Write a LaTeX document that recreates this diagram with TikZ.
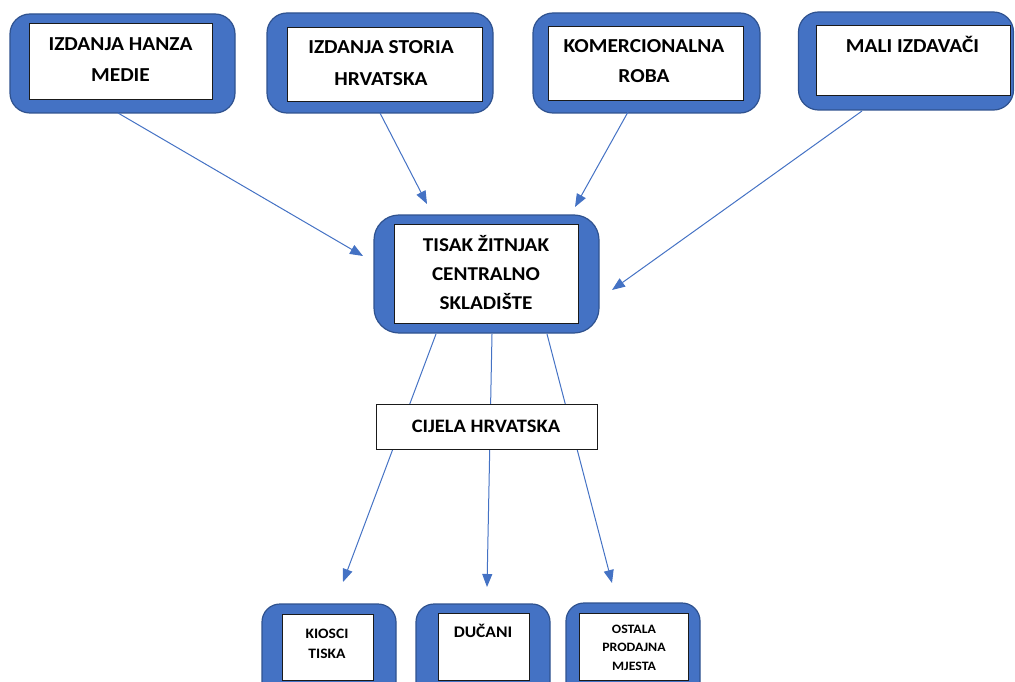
\documentclass[tikz,border=0pt]{standalone}
\usepackage{fontspec}
\setmainfont{Carlito}
\newfontfamily\widecal{Carlito}[FakeStretch=1.08]
\usetikzlibrary{arrows.meta}
\definecolor{fillblue}{HTML}{4472C4}
\definecolor{edgeblue}{HTML}{2F528F}
\definecolor{lineblue}{HTML}{4472C4}
\definecolor{innerline}{HTML}{1A1A1A}
\begin{document}
\begin{tikzpicture}[x=1pt,y=-1pt,
  outerbox/.style={draw=edgeblue, line width=1.2pt, fill=fillblue, rounded corners=#1, inner sep=0pt},
  innerbox/.style={draw=innerline, line width=0.9pt, fill=white, inner sep=0pt},
  plainbox/.style={draw=innerline, line width=0.9pt, fill=white, inner sep=0pt},
  toplabel/.style={inner sep=0pt, align=center, anchor=base, font=\widecal\bfseries\fontsize{19.8}{31}\selectfont},
  midlabel/.style={inner sep=0pt, align=center, anchor=base, font=\widecal\bfseries\fontsize{19.6}{29}\selectfont},
  smalllabel/.style={inner sep=0pt, align=center, anchor=base, font=\widecal\bfseries\fontsize{14.4}{20}\selectfont},
  tinylabel/.style={inner sep=0pt, align=center, anchor=base, font=\widecal\bfseries\fontsize{12.8}{18.5}\selectfont},
  flow/.style={draw=lineblue, line width=1pt, -{Triangle[length=13pt,width=10pt]}}
]
\useasboundingbox (0,0) rectangle (1015,682);
\clip (0,0) rectangle (1015,682);

% top boxes
\node[outerbox=20pt, minimum width=225pt, minimum height=99pt] (o1) at (122.5,63.5) {};
\node[innerbox, minimum width=183pt, minimum height=76pt] (b1) at (120.5,61) {};
\node[toplabel] (t1) at (120.5,82) {IZDANJA HANZA\\MEDIE};

\node[outerbox=20pt, minimum width=226pt, minimum height=100pt] (o2) at (380,63) {};
\node[innerbox, minimum width=195pt, minimum height=74pt] (b2) at (384.5,64) {};
\node[toplabel, font=\widecal\bfseries\fontsize{19.8}{32}\selectfont] (t2) at (381,86) {IZDANJA STORIA\\HRVATSKA};

\node[outerbox=20pt, minimum width=227pt, minimum height=100pt] (o3) at (646.5,63) {};
\node[innerbox, minimum width=195pt, minimum height=74pt] (b3) at (645.5,63) {};
\node[toplabel, font=\widecal\bfseries\fontsize{19.8}{30}\selectfont] (t3) at (644,83) {KOMERCIONALNA\\ROBA};

\node[outerbox=20pt, minimum width=215pt, minimum height=98pt] (o4) at (906,61) {};
\node[innerbox, minimum width=194pt, minimum height=70pt] (b4) at (913,60) {};
\node[toplabel] (t4) at (912.5,53) {MALI IZDAVAČI};

% central box
\node[outerbox=25pt, minimum width=225pt, minimum height=118pt] (oc) at (486.5,274) {};
\node[innerbox, minimum width=184pt, minimum height=99pt] (bc) at (486,273.5) {};
\node[midlabel] (tc) at (486,309) {TISAK ŽITNJAK\\CENTRALNO\\SKLADIŠTE};

% bottom boxes
\node[outerbox=18pt, minimum width=134pt, minimum height=110pt] (ok) at (329,659) {};
\node[innerbox, minimum width=91pt, minimum height=66pt] (bk) at (327.5,647) {};
\node[smalllabel] (tk) at (327,658) {KIOSCI\\TISKA};

\node[outerbox=18pt, minimum width=134pt, minimum height=110pt] (od) at (483,659) {};
\node[innerbox, minimum width=91pt, minimum height=67pt] (bd) at (483.5,646.5) {};
\node[smalllabel, font=\widecal\bfseries\fontsize{16.2}{20}\selectfont] (td) at (483,637) {DUČANI};

\node[outerbox=18pt, minimum width=134pt, minimum height=110pt] (oo) at (633,658) {};
\node[innerbox, minimum width=109pt, minimum height=67pt] (bo) at (633.5,646.5) {};
\node[tinylabel] (to) at (634,670) {OSTALA\\PRODAJNA\\MJESTA};

% arrow coordinates
\coordinate (s1) at (118,113);
\coordinate (e1) at (363,256);
\coordinate (s2) at (380,113);
\coordinate (e2) at (427,204);
\coordinate (s3) at (628,112);
\coordinate (e3) at (575,207);
\coordinate (s4) at (862,111);
\coordinate (e4) at (612,290);

\draw[flow] (s1) -- (e1);
\draw[flow] (s2) -- (e2);
\draw[flow] (s3) -- (e3);
\draw[flow] (s4) -- (e4);

% lines from central through Cijela Hrvatska
\coordinate (c1) at (436,334);
\coordinate (c2) at (492,334);
\coordinate (c3) at (547,334);
\coordinate (k1) at (343,582);
\coordinate (k2) at (487,587);
\coordinate (k3) at (612,583);
\draw[flow] (c1) -- (k1);
\draw[flow] (c2) -- (k2);
\draw[flow] (c3) -- (k3);

\node[plainbox, minimum width=221pt, minimum height=45pt] (ch) at (486.5,426.5) {};
\node[midlabel, font=\widecal\bfseries\fontsize{19}{29}\selectfont] (tch) at (486,432) {CIJELA HRVATSKA};
\end{tikzpicture}
\end{document}
